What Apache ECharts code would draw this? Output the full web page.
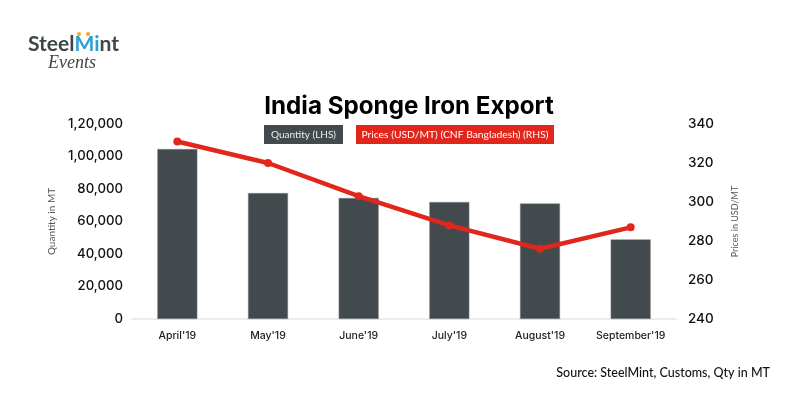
<!DOCTYPE html>
<html>
<head>
<meta charset="utf-8">
<style>html,body{margin:0;padding:0;background:#fff}#chart{width:800px;height:400px}</style>
<script src="https://cdn.jsdelivr.net/npm/echarts@6/dist/echarts.min.js"></script>
</head>
<body>
<div id="chart"></div>
<script>
var months = ["April'19", "May'19", "June'19", "July'19", "August'19", "September'19"];
var quantity = [104600, 77500, 74500, 72000, 71100, 49000];
var prices = [331, 320, 303, 288, 276, 287];

var DARK = '#424a4d';
var RED = '#e1261c';
var FONT = 'Inter';

var myChart = echarts.init(document.getElementById('chart'));
var option = {
    animation: false,
    backgroundColor: '#fff',
    title: {
        text: 'India Sponge Iron Export',
        left: 408,
        top: 90,
        textAlign: 'center',
        textStyle: { fontFamily: FONT, fontWeight: 700, fontSize: 24.2, color: '#000' }
    },
    grid: { left: 132, right: 124, top: 124, bottom: 81 },
    xAxis: {
        type: 'category',
        data: months,
        axisTick: { show: false },
        axisLine: { lineStyle: { color: '#e6e6e6', width: 1.5 } },
        axisLabel: { fontFamily: FONT, fontSize: 10.5, fontWeight: 500, color: '#222', margin: 11 }
    },
    yAxis: [{
        type: 'value',
        min: 0,
        max: 120000,
        interval: 20000,
        name: 'Quantity in MT',
        nameLocation: 'middle',
        nameGap: 73,
        nameTextStyle: { fontFamily: 'Lato', fontSize: 10, color: '#555' },
        splitLine: { show: false },
        axisLine: { show: false },
        axisTick: { show: false },
        axisLabel: {
            fontFamily: FONT, fontSize: 13.2, fontWeight: 500, color: '#111', margin: 9,
            formatter: function (v) {
                // lakh style grouping as in the source
                return v >= 100000 ? '1,' + String(v).slice(1, 3) + ',' + String(v).slice(3) : echarts.format.addCommas(v);
            }
        }
    }, {
        type: 'value',
        min: 240,
        max: 340,
        interval: 20,
        name: 'Prices in USD/MT',
        nameLocation: 'middle',
        nameGap: 55,
        nameTextStyle: { fontFamily: 'Lato', fontSize: 9, color: '#555' },
        splitLine: { show: false },
        axisLine: { show: false },
        axisTick: { show: false },
        axisLabel: { fontFamily: FONT, fontSize: 13.5, fontWeight: 500, color: '#111', margin: 12 }
    }],
    series: [{
        name: 'Quantity (LHS)',
        type: 'bar',
        data: quantity,
        barWidth: 40,
        itemStyle: { color: DARK, borderColor: '#83898b', borderWidth: 0.5 }
    }, {
        name: 'Prices (USD/MT) (CNF Bangladesh) (RHS)',
        type: 'line',
        yAxisIndex: 1,
        data: prices,
        symbol: 'circle',
        symbolSize: 8,
        lineStyle: { color: RED, width: 4.5 },
        itemStyle: { color: RED }
    }],
    graphic: [
        // legend chips
        { type: 'rect', shape: { x: 264, y: 125, width: 79, height: 19 }, style: { fill: DARK } },
        { type: 'text', x: 303.5, y: 134.5, style: { text: 'Quantity (LHS)', fontFamily: 'Lato', fontSize: 10, fill: '#eee', align: 'center', verticalAlign: 'middle' } },
        { type: 'rect', shape: { x: 356, y: 125, width: 198, height: 19 }, style: { fill: RED } },
        { type: 'text', x: 455, y: 134.5, style: { text: 'Prices (USD/MT) (CNF Bangladesh) (RHS)', fontFamily: 'Lato', fontSize: 10.3, fill: '#fff', align: 'center', verticalAlign: 'middle' } },
        // source note
        { type: 'text', x: 770, y: 373, style: { text: 'Source: SteelMint, Customs, Qty in MT', fontFamily: 'Lato', fontSize: 12.5, fontWeight: 500, fill: '#111', align: 'right', verticalAlign: 'middle' } },
        // logo
        { type: 'text', x: 28, y: 44, style: {
            text: '{a|Steel}{b|Mi}{a|nt}',
            verticalAlign: 'middle',
            rich: {
                a: { fontFamily: 'Lato', fontSize: 21, fontWeight: 700, fill: '#3d4548', color: '#3d4548' },
                b: { fontFamily: 'Lato', fontSize: 21, fontWeight: 700, fill: '#2a9fd8', color: '#2a9fd8' }
            }
        } },
        { type: 'circle', shape: { cx: 79, cy: 34, r: 2 }, style: { fill: '#f2a51f' } },
        { type: 'circle', shape: { cx: 88, cy: 34, r: 2 }, style: { fill: '#f2a51f' } },
        { type: 'text', x: 48, y: 63, style: { text: 'Events', fontFamily: 'Liberation Serif', fontStyle: 'italic', fontSize: 18, fill: '#444', verticalAlign: 'middle' } }
    ]
};
// title is centred by hand, the chips sit just under it
option.title.left = 404;
myChart.setOption(option);
</script>
</body>
</html>
